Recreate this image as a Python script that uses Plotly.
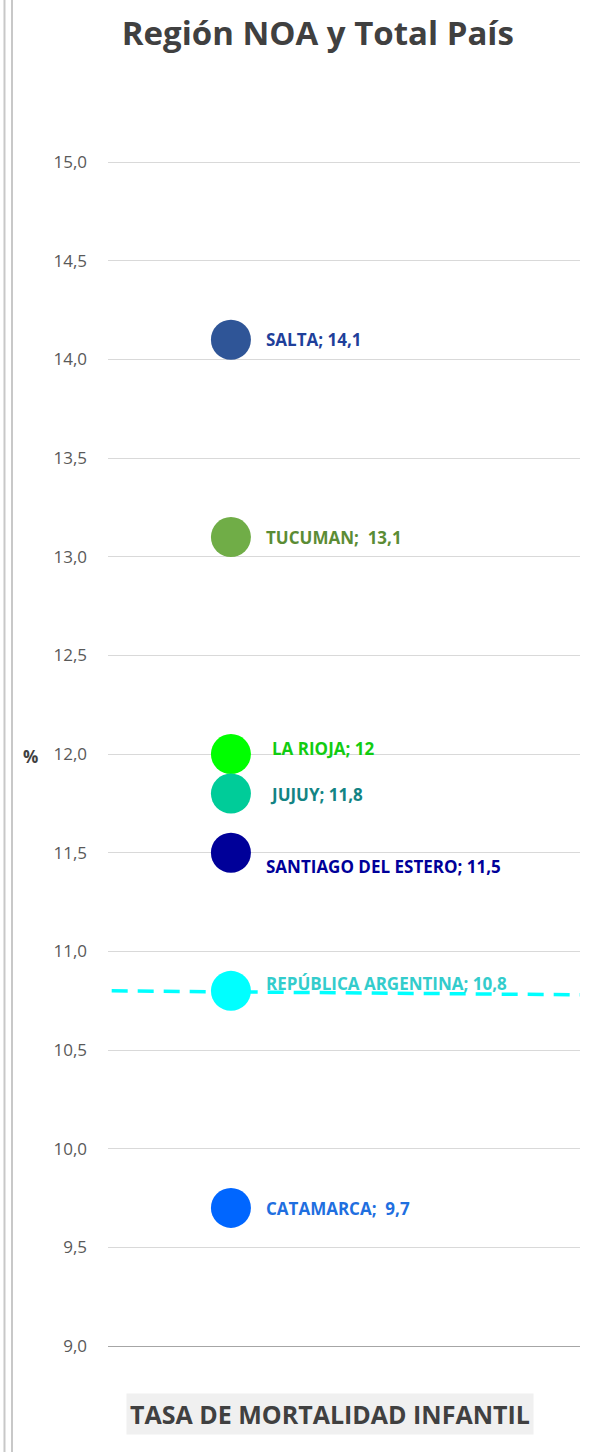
import plotly.graph_objects as go

# ---- data ----
provinces = ["SALTA", "TUCUMAN", "LA RIOJA", "JUJUY", "SANTIAGO DEL ESTERO",
             "REPÚBLICA ARGENTINA", "CATAMARCA"]
rates = [14.1, 13.1, 12.0, 11.8, 11.5, 10.8, 9.7]
rate_labels = ["14,1", "13,1", "12", "11,8", "11,5", "10,8", "9,7"]
x_category = 1
national_line_y = [10.80, 10.78]
y_ticks = [9.0, 9.5, 10.0, 10.5, 11.0, 11.5, 12.0, 12.5, 13.0, 13.5, 14.0, 14.5, 15.0]
y_tick_text = ["9,0", "9,5", "10,0", "10,5", "11,0", "11,5", "12,0", "12,5",
               "13,0", "13,5", "14,0", "14,5", "15,0"]
title_text = "Región NOA y Total País"
x_title = "TASA DE MORTALIDAD INFANTIL"

# ---- styles ----
FONT = "Open Sans"
marker_colors = ["#2F5597", "#70AD47", "#00FF00", "#00CC99", "#000099", "#00FFFF", "#0066FF"]
label_colors = ["#1F3F9A", "#5B8C35", "#11CC11", "#138484", "#000099", "#33CCCC", "#1F6FE0"]
label_seps = ["; ", ";  ", "; ", "; ", "; ", "; ", ";  "]
label_xshift = [33, 33, 39, 37, 33, 33, 33]
label_yshift = [0, 0, 6, -1, -14, 7, -1]

X_RANGE = [0, 3.84]
Y_RANGE = [9, 15.006]

fig = go.Figure()

# dashed national line
fig.add_trace(go.Scatter(
    x=[X_RANGE[0] + 0.03, X_RANGE[1]], y=national_line_y, mode="lines",
    line=dict(color="#00FFFF", width=3.5, dash="16px,10px"),
    hoverinfo="skip", showlegend=False, cliponaxis=False))

for i, p in enumerate(provinces):
    fig.add_trace(go.Scatter(
        x=[x_category], y=[rates[i]], mode="markers", name=p,
        marker=dict(color=marker_colors[i], size=40, line=dict(width=0)),
        showlegend=False, cliponaxis=False))
    fig.add_annotation(
        x=x_category, y=rates[i], xref="x", yref="y",
        text=f"<b>{p}{label_seps[i]}{rate_labels[i]}</b>",
        showarrow=False, xanchor="left", yanchor="middle",
        xshift=label_xshift[i], yshift=label_yshift[i],
        font=dict(family=FONT, size=17, color=label_colors[i]))

# "%" axis label
fig.add_annotation(
    x=-0.165, y=12.0, xref="paper", yref="y", text="<b>%</b>",
    showarrow=False, xanchor="center", yanchor="middle", yshift=-2,
    font=dict(family=FONT, size=17, color="#404040"))

# x axis category title
fig.add_annotation(
    x=0.47, y=-0.0574, xref="paper", yref="paper", text=f"<b>{x_title}</b>",
    showarrow=False, xanchor="center", yanchor="middle",
    bgcolor="#F0F0F0", borderpad=3,
    font=dict(family=FONT, size=25, color="#404040"))

# left double border
for xp, w in [(-0.2193, 2), (-0.2034, 2)]:
    fig.add_shape(type="line", xref="paper", yref="paper",
                  x0=xp, x1=xp, y0=-0.2, y1=1.2,
                  line=dict(color="#C8C8C8", width=w))

fig.update_layout(
    width=603, height=1452,
    margin=dict(l=108, r=23, t=161, b=106),
    paper_bgcolor="white", plot_bgcolor="white",
    title=dict(text=f"<b>{title_text}</b>", x=0.527, xanchor="center",
               y=1 - 33 / 1452, yanchor="middle",
               font=dict(family=FONT, size=33, color="#404040")),
    xaxis=dict(range=X_RANGE, showgrid=False, zeroline=False,
               showticklabels=False, ticks="", showline=True,
               linecolor="#A6A6A6", linewidth=1),
    yaxis=dict(range=Y_RANGE, tickvals=y_ticks, ticktext=y_tick_text,
               showgrid=True, gridcolor="#D9D9D9", gridwidth=1,
               zeroline=False, showline=False, ticks="",
               ticklabelstandoff=20,
               tickfont=dict(family=FONT, size=17, color="#595959")),
)

fig.write_html("out.html", config={"displayModeBar": False},
               post_script="document.body.style.margin='0';")
